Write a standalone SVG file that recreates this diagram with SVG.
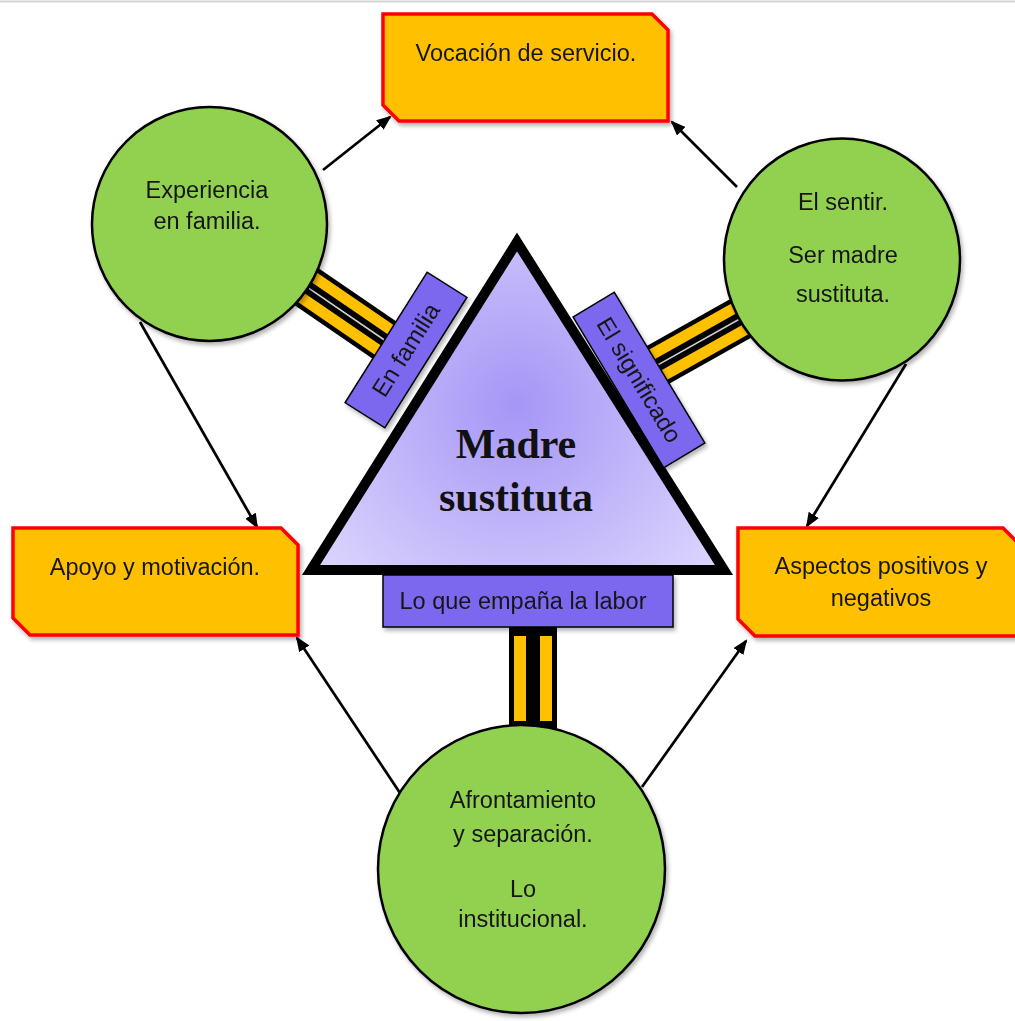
<svg xmlns="http://www.w3.org/2000/svg" width="1015" height="1021" viewBox="0 0 1015 1021">
  <style>
    .box { fill: #FFC000; stroke: #FF0000; stroke-width: 3.5; stroke-linejoin: miter; }
    .circ { fill: #92D050; stroke: #000; stroke-width: 2.5; }
    .lbl { fill: #7B68EE; stroke: #000; stroke-width: 1.5; }
    .t { font-family: "Liberation Sans", Arial, sans-serif; font-size: 23.5px; fill: #161616; text-anchor: middle; }
    .tl { font-family: "Liberation Sans", Arial, sans-serif; font-size: 24px; fill: #161616; text-anchor: middle; }
    .tb { font-family: "Liberation Sans", Arial, sans-serif; font-size: 23.5px; fill: #161616; text-anchor: middle; }
    .title { font-family: "Liberation Serif", "Times New Roman", serif; font-weight: bold; font-size: 42px; fill: #111; text-anchor: middle; }
    .arr { stroke: #000; stroke-width: 2.7; fill: none; marker-end: url(#ah); }
  </style>
  <defs>
    <marker id="ah" markerUnits="userSpaceOnUse" markerWidth="16" markerHeight="12" refX="13" refY="6" orient="auto">
      <path d="M0,0 L15,6 L0,12 z" fill="#000"/>
    </marker>
    <radialGradient id="tg" gradientUnits="userSpaceOnUse" cx="517" cy="405" r="240">
      <stop offset="0" stop-color="#A596F6"/>
      <stop offset="1" stop-color="#D9D2FD"/>
    </radialGradient>
    <filter id="sh" x="-10%" y="-10%" width="125%" height="125%">
      <feDropShadow dx="2" dy="3" stdDeviation="2" flood-color="#000" flood-opacity="0.3"/>
    </filter>
  </defs>

  <rect width="1015" height="1021" fill="#fff"/>
  <line x1="0" y1="1.5" x2="1015" y2="1.5" stroke="#d4d4d4" stroke-width="2"/>

  <g id="connectors">
    <g transform="translate(307,287) rotate(34.4)">
      <rect x="-45" y="-22" width="145" height="44" fill="#000"/>
      <rect x="-45" y="-17.5" width="141" height="11" fill="#FFC000"/>
      <rect x="-45" y="6.5" width="141" height="11" fill="#FFC000"/>
      <rect x="-45" y="-0.8" width="145" height="1.6" fill="#cfcfcf"/>
    </g>
    <g transform="translate(663,362) rotate(-29.3)">
      <rect x="-15" y="-22" width="130" height="44" fill="#000"/>
      <rect x="-11" y="-17.5" width="126" height="11" fill="#FFC000"/>
      <rect x="-11" y="6.5" width="126" height="11" fill="#FFC000"/>
      <rect x="-15" y="-0.8" width="130" height="1.6" fill="#cfcfcf"/>
    </g>
    <rect x="509" y="627" width="48" height="104" fill="#000"/>
    <rect x="514" y="636" width="12" height="85" fill="#FFC000"/>
    <rect x="540" y="636" width="12" height="85" fill="#FFC000"/>
    <line class="arr" x1="323" y1="170" x2="390" y2="117"/>
    <line class="arr" x1="737" y1="187" x2="672" y2="122"/>
    <line class="arr" x1="140" y1="322" x2="257" y2="527"/>
    <line class="arr" x1="906" y1="364" x2="807" y2="526"/>
    <line class="arr" x1="400" y1="793" x2="297" y2="638"/>
    <line class="arr" x1="642" y1="787" x2="746" y2="641"/>
  </g>

  <g id="box-vocacion" filter="url(#sh)">
    <polygon class="box" points="383,14 652,14 668,30 668,121 399,121 383,105"/>
    <text class="t" x="526" y="61">Vocación de servicio.</text>
  </g>
  <g id="box-apoyo" filter="url(#sh)">
    <polygon class="box" points="13,528 281,528 298,545 298,635 30,635 13,618"/>
    <text class="t" x="155" y="575">Apoyo y motivación.</text>
  </g>
  <g id="box-aspectos" filter="url(#sh)">
    <polygon class="box" points="738,528 1003,528 1019,544 1019,636 755,636 738,619"/>
    <text class="t" x="881" y="574">Aspectos positivos y</text>
    <text class="t" x="881" y="606">negativos</text>
  </g>

  <g id="circle-experiencia" filter="url(#sh)">
    <ellipse class="circ" cx="209.5" cy="224" rx="117.5" ry="117"/>
    <text class="t" x="207" y="198">Experiencia</text>
    <text class="t" x="207" y="229">en familia.</text>
  </g>
  <g id="circle-sentir" filter="url(#sh)">
    <ellipse class="circ" cx="842" cy="259.5" rx="118" ry="121"/>
    <text class="t" x="843" y="210">El sentir.</text>
    <text class="t" x="843" y="263">Ser madre</text>
    <text class="t" x="843" y="302">sustituta.</text>
  </g>
  <g id="circle-afrontamiento" filter="url(#sh)">
    <ellipse class="circ" cx="521.5" cy="869" rx="143.5" ry="144"/>
    <text class="t" x="523" y="808">Afrontamiento</text>
    <text class="t" x="523" y="842">y separación.</text>
    <text class="t" x="523" y="897">Lo</text>
    <text class="t" x="523" y="927">institucional.</text>
  </g>

  <g id="triangle-madre">
    <polygon points="517,242 311,570 724,570" fill="url(#tg)" stroke="#000" stroke-width="10" stroke-linejoin="miter"/>
    <text class="title" x="516" y="458">Madre</text>
    <text class="title" x="516" y="511">sustituta</text>
  </g>

  <g id="label-familia" filter="url(#sh)">
    <g transform="translate(406,350) rotate(-57.8)">
      <rect class="lbl" x="-77" y="-23.5" width="154" height="47"/>
      <text class="tl" x="0" y="8">En familia</text>
    </g>
  </g>
  <g id="label-significado" filter="url(#sh)">
    <g transform="translate(639,380) rotate(59)">
      <rect class="lbl" x="-88" y="-24" width="176" height="48"/>
      <text class="tl" x="0" y="8">El significado</text>
    </g>
  </g>
  <g id="label-empana" filter="url(#sh)">
    <rect class="lbl" x="383" y="575" width="290" height="52"/>
    <text class="tb" x="523" y="609">Lo que empaña la labor</text>
  </g>
</svg>
